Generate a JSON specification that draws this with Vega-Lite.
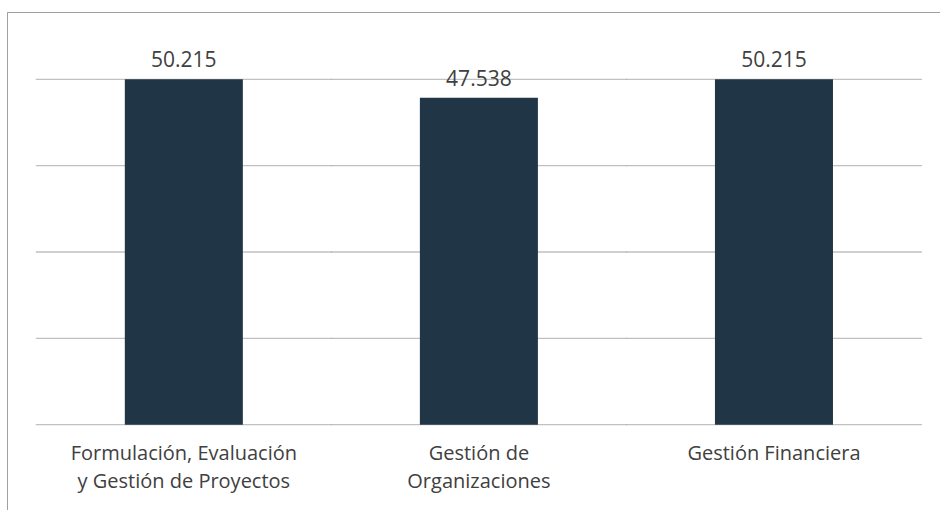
{
  "$schema": "https://vega.github.io/schema/vega-lite/v6.json",
  "width": 933,
  "height": 498,
  "autosize": {"type": "none"},
  "padding": {"left": 7, "top": 12, "right": 0, "bottom": 0},
  "background": "white",
  "config": {
    "view": {"stroke": "#a0a0a0", "strokeWidth": 1, "strokeDash": [933, 1431, 498]},
    "text": {"font": "Open Sans", "color": "#404040"}
  },
  "datasets": {
    "bars": [
      {"cat": "Formulación, Evaluación|y Gestión de Proyectos", "value": 50.215},
      {"cat": "Gestión de|Organizaciones", "value": 47.538},
      {"cat": "Gestión Financiera", "value": 50.215}
    ],
    "grid": [
      {"cat": "Formulación, Evaluación|y Gestión de Proyectos", "g": 0},
      {"cat": "Formulación, Evaluación|y Gestión de Proyectos", "g": 12.554},
      {"cat": "Formulación, Evaluación|y Gestión de Proyectos", "g": 25.1075},
      {"cat": "Formulación, Evaluación|y Gestión de Proyectos", "g": 37.661},
      {"cat": "Formulación, Evaluación|y Gestión de Proyectos", "g": 50.215},
      {"cat": "Gestión de|Organizaciones", "g": 0},
      {"cat": "Gestión de|Organizaciones", "g": 12.554},
      {"cat": "Gestión de|Organizaciones", "g": 25.1075},
      {"cat": "Gestión de|Organizaciones", "g": 37.661},
      {"cat": "Gestión de|Organizaciones", "g": 50.215},
      {"cat": "Gestión Financiera", "g": 0},
      {"cat": "Gestión Financiera", "g": 12.554},
      {"cat": "Gestión Financiera", "g": 25.1075},
      {"cat": "Gestión Financiera", "g": 37.661},
      {"cat": "Gestión Financiera", "g": 50.215}
    ]
  },
  "layer": [
    {"data": {"name": "grid"},
     "mark": {"type": "tick", "orient": "horizontal", "color": "#a6a6a6", "size": 296, "thickness": 1.3},
     "encoding": {
       "x": {"field": "cat", "type": "nominal", "sort": null,
             "scale": {"paddingInner": 0.6, "paddingOuter": 0.381, "align": 0.524},
             "axis": {"orient": "bottom", "offset": -85, "domain": false, "ticks": false, "grid": false,
                      "title": null, "labelAngle": 0, "labelFont": "Open Sans", "labelFontSize": 20,
                      "labelColor": "#404040", "labelPadding": 18, "labelLineHeight": 28, "labelLimit": 0,
                      "labelExpr": "split(datum.value, '|')", "labelBaseline": "top"}},
       "y": {"field": "g", "type": "quantitative", "axis": null,
             "scale": {"domain": [-12.4, 60], "nice": false, "zero": false}}}},
    {"data": {"name": "bars"},
     "mark": {"type": "bar", "color": "#203545"},
     "encoding": {
       "x": {"field": "cat", "type": "nominal", "sort": null},
       "y": {"field": "value", "type": "quantitative"}}},
    {"data": {"name": "bars"},
     "mark": {"type": "text", "baseline": "alphabetic", "dy": -12, "fontSize": 21},
     "encoding": {
       "x": {"field": "cat", "type": "nominal", "sort": null},
       "y": {"field": "value", "type": "quantitative"},
       "text": {"field": "value", "type": "quantitative", "format": ".3f"}}}
  ]
}
